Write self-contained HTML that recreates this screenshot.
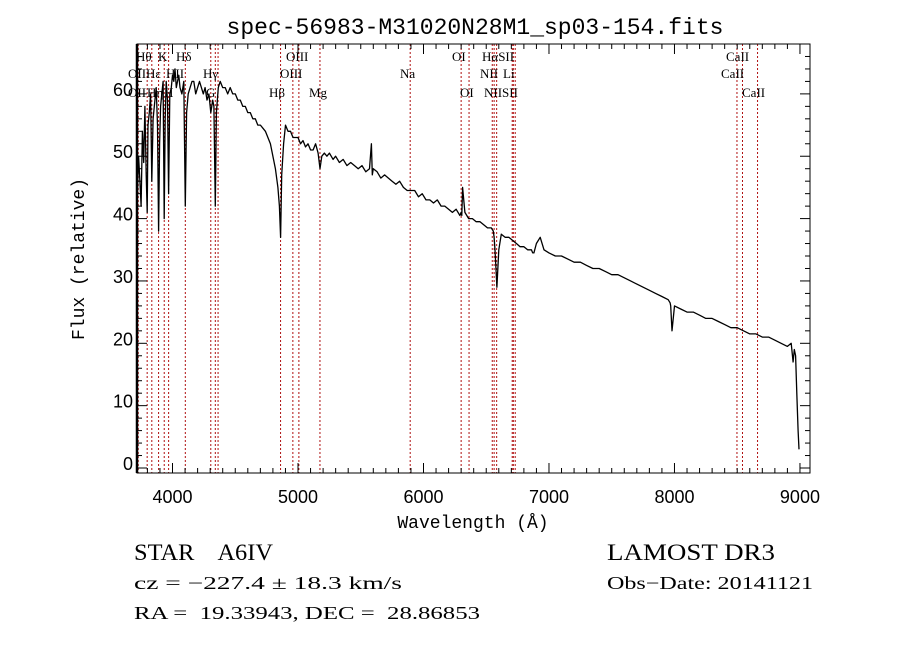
<!DOCTYPE html>
<html><head><meta charset="utf-8"><style>
body{margin:0;background:#fff;}
svg{display:block;font-family:"Liberation Serif",serif;}
text{white-space:pre;}
</style></head><body>
<svg id="chart" width="900" height="649" viewBox="0 0 900 649" xmlns="http://www.w3.org/2000/svg" xml:space="preserve">
<rect width="900" height="649" fill="#fff"/>
<text x="475" y="34" font-family="Liberation Mono, monospace" font-size="23" text-anchor="middle">spec-56983-M31020N28M1_sp03-154.fits</text>
<g id="lines"></g>
<g id="labels" font-size="13"></g>
<path id="spec" fill="none" stroke="#000" stroke-width="1.3" stroke-linejoin="round"/>
<g id="axes"></g>
<text x="473" y="528" font-family="Liberation Mono, monospace" font-size="18" text-anchor="middle">Wavelength (Å)</text>
<text transform="translate(84,259) rotate(-90)" font-family="Liberation Mono, monospace" font-size="18" text-anchor="middle">Flux (relative)</text>
<text x="134" y="560" font-size="23" textLength="139" lengthAdjust="spacingAndGlyphs">STAR    A6IV</text>
<text x="607" y="560" font-size="23" textLength="168" lengthAdjust="spacingAndGlyphs">LAMOST DR3</text>
<text x="134" y="589" font-size="18" textLength="268" lengthAdjust="spacingAndGlyphs">cz = −227.4 ± 18.3 km/s</text>
<text x="607" y="589" font-size="18" textLength="206" lengthAdjust="spacingAndGlyphs">Obs−Date: 20141121</text>
<text x="134" y="619" font-size="18" textLength="346" lengthAdjust="spacingAndGlyphs">RA =  19.33943, DEC =  28.86853</text>
</svg>
<script>
const wl = [3700,3712,3720,3730,3740,3750,3760,3770,3780,3790,3798,3805,3815,3825,3835,3845,3855,3870,3880,3889,3897,3905,3915,3925,3934,3942,3950,3960,3969,3978,3990,4000,4010,4020,4030,4040,4050,4060,4075,4090,4102,4112,4125,4140,4155,4170,4185,4200,4215,4230,4245,4260,4275,4290,4305,4320,4330,4341,4350,4365,4380,4400,4420,4440,4460,4480,4500,4520,4540,4560,4580,4600,4620,4640,4660,4680,4700,4720,4740,4760,4780,4800,4820,4840,4852,4861,4870,4885,4900,4920,4940,4960,4980,5000,5020,5040,5060,5080,5100,5120,5140,5160,5175,5190,5210,5230,5250,5280,5300,5330,5360,5390,5420,5450,5480,5510,5540,5570,5585,5592,5600,5630,5660,5690,5720,5750,5780,5810,5840,5870,5900,5930,5960,5990,6020,6050,6080,6110,6140,6170,6200,6230,6260,6290,6300,6305,6312,6330,6360,6390,6420,6450,6480,6510,6540,6556,6563,6570,6585,6600,6620,6650,6680,6710,6740,6770,6800,6830,6860,6870,6880,6900,6930,6960,7000,7050,7100,7150,7200,7250,7300,7350,7400,7450,7500,7550,7600,7650,7700,7750,7800,7850,7900,7950,7965,7970,7980,8000,8050,8100,8150,8200,8250,8300,8350,8400,8450,8500,8550,8600,8650,8700,8750,8800,8850,8900,8930,8945,8955,8965,8975,8985,8992,9000];
const flux = [14,40,44,50,46,42,54,49,58,47,41,55,57,60,46,56,58,61,55,38,52,58,60,62,40,56,62,59,44,60,61,63,62,64,61,62,63,61,60,62,42,57,60,61,62,62,60,61,62,61,60,61,59,60,57,59,58,42,57,61,62,61,61,60,61,60,60,59,59,58,58,57,57,56,56,55,55,54.5,54,53,52,50,48,45,42,37,47,52,55,54,54,53,53,53,52,52.5,51.5,52,51,51,52,50.5,48,50,50.5,50,50.5,49.5,50,49,49.5,48.5,49,48.5,48,48.5,47.5,48,52,47,48,47.5,46.5,47,46.5,46,45.5,46,45,44.5,44.5,44.5,43.5,44,43,43,42.5,43,42,42,41.5,41,41.5,40.5,41,40.5,45,41,40,40,39.5,39.5,39,38.5,38.5,38,37,35,29,35,37.5,37,37,36.5,36,35.5,35.5,35,35,34.5,34.5,36,37,35,34.5,34,34,33.5,33,33,32.5,32,32,31.5,31,31,30.5,30,29.5,29,28.5,28,27.5,27,26.5,26,22,26,25.5,25,25,24.5,24,24,23.5,23,22.5,22.5,22,21.5,21.5,21,21,20.5,20,19.5,20,17,19,18,12,6,3];
const lineWl = [3727,3798,3835,3889,3934,3969,4102,4305,4341,4363,4861,4959,5007,5175,5894,6300,6363,6548,6563,6583,6707,6716,6731,8498,8542,8662];
const xTicks = [4000,5000,6000,7000,8000,9000];
const yTicks = [0,10,20,30,40,50,60];
const L=137,R=810,T=44,B=473;
const xMin=3717,xMax=9080,yMin=-0.8,yMax=68;
const X=w=>L+(w-xMin)/(xMax-xMin)*(R-L);
const Y=v=>B-(v-yMin)/(yMax-yMin)*(B-T);
const NS='http://www.w3.org/2000/svg';
function mk(tag,attrs,parent){const e=document.createElementNS(NS,tag);for(const k in attrs)e.setAttribute(k,attrs[k]);parent.appendChild(e);return e;}
let d='';wl.forEach((w,i)=>{d+=(i?'L':'M')+X(Math.max(w,xMin)).toFixed(1)+','+Y(flux[i]).toFixed(1);});
document.getElementById('spec').setAttribute('d',d);
const lg=document.getElementById('lines');
lineWl.forEach(w=>{const l=mk('line',{x1:X(w),x2:X(w),y1:T,y2:B,stroke:'#b01010','stroke-width':1,'stroke-dasharray':'2,2'},lg);

});
const labs=[["Hθ",136,61],["K",158,61],["Hδ",176,61],["OIII",286,61],["OI",452,61],["HαSII",482,61],["CaII",726,61],
["OII",128,78],["Hε",146,78],["HII",166,78],["Hγ",203,78],["OIII",280,78],["Na",400,78],["NII",480,78],["Li",503,78],["CaII",721,78],
["OII",128,97],["Hη",147,97],["H",164,97],["G",206,97],["Hβ",269,97],["Mg",309,97],["OI",460,97],["NIISII",484,97],["CaII",742,97]];
const lb=document.getElementById('labels');
labs.forEach(a=>{const t=mk('text',{x:a[1],y:a[2]},lb);t.textContent=a[0];

});
const ax=document.getElementById('axes');
mk('rect',{x:L,y:T,width:R-L,height:B-T,fill:'none',stroke:'#000','stroke-width':1},ax);
mk('line',{x1:L,x2:L,y1:T,y2:B,stroke:'#000','stroke-width':2.5},ax);
for(let w=3800;w<=9000;w+=100){const big=w%1000===0,len=big?10:5;
mk('line',{x1:X(w),x2:X(w),y1:B,y2:B-len,stroke:'#000'},ax);
mk('line',{x1:X(w),x2:X(w),y1:T,y2:T+len,stroke:'#000'},ax);}
for(let v=0;v<=68;v+=2){const big=v%10===0,len=big?10:5;
mk('line',{x1:L,x2:L+len,y1:Y(v),y2:Y(v),stroke:'#000'},ax);
mk('line',{x1:R,x2:R-len,y1:Y(v),y2:Y(v),stroke:'#000'},ax);}
xTicks.forEach(w=>{const t=mk('text',{x:X(w),y:B+30,'text-anchor':'middle','font-family':'Liberation Sans, sans-serif','font-size':18},ax);t.textContent=w;

});
yTicks.forEach(v=>{const t=mk('text',{x:L-4,y:Y(v)+2,'text-anchor':'end','font-family':'Liberation Sans, sans-serif','font-size':18},ax);t.textContent=v;

});
</script>
</body></html>
